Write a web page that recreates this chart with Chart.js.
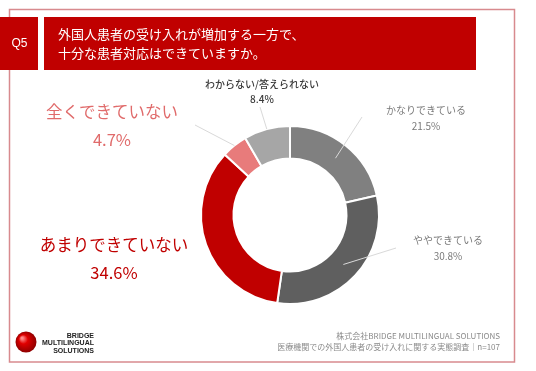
<!DOCTYPE html>
<html>
<head>
<meta charset="utf-8">
<script src="https://cdn.jsdelivr.net/npm/chart.js@4"></script>
<style>
  html, body { margin: 0; padding: 0; background: #fff; }
  canvas { display: block; }
</style>
</head>
<body>
<canvas id="chart" width="536" height="371"></canvas>
<script>
// survey answers, clockwise from 12 o'clock
var categories = ['かなりできている', 'ややできている', 'あまりできていない', '全くできていない', 'わからない/答えられない'];
var percentages = [21.5, 30.8, 34.6, 4.7, 8.4];
var sliceColors = ['#808080', '#5f5f5f', '#c00000', '#e87b7b', '#a6a6a6'];

var titleLines = ['外国人患者の受け入れが増加する一方で、', '十分な患者対応はできていますか。'];
var questionNo = 'Q5';
var sourceLines = ['株式会社BRIDGE MULTILINGUAL SOLUTIONS', '医療機関での外国人患者の受け入れに関する実態調査｜n=107'];
var logoLines = ['BRIDGE', 'MULTILINGUAL', 'SOLUTIONS'];

var JP = '"Noto Sans CJK JP", "Noto Sans", sans-serif';

// where each label sits, and where its leader line ends
var labelStyle = [
    { x: 426, y: 110, gap: 16, size: 10, color: '#7a7a7a', weight: 400, lineTo: [362, 117], r: 0.5 },
    { x: 448, y: 240, gap: 16, size: 10, color: '#7a7a7a', weight: 400, lineTo: [396, 248], r: 0.5 },
    { x: 114, y: 245, gap: 28, size: 16.5, color: '#c00000', weight: 400, lineTo: null, r: 0.5 },
    { x: 112, y: 112, gap: 28, size: 16.5, color: '#e06b6b', weight: 400, lineTo: [195, 125], r: 1 },
    { x: 262, y: 84, gap: 15, size: 10, color: '#3a3a3a', weight: 500, lineTo: [260, 107], r: 1 }
];

var frame = {
    id: 'frame',
    beforeDraw: function (chart) {
        var ctx = chart.ctx;
        ctx.save();
        ctx.fillStyle = '#fff';
        ctx.fillRect(0, 0, chart.width, chart.height);

        // outer border
        ctx.strokeStyle = '#d88a8e';
        ctx.lineWidth = 1.5;
        ctx.strokeRect(9.5, 9.5, 505, 352.5);

        // question box and title bar
        ctx.fillStyle = '#c00000';
        ctx.fillRect(0, 17, 38, 53);
        ctx.fillRect(44, 17, 432, 53);
        ctx.fillStyle = '#fff';
        ctx.textBaseline = 'middle';
        ctx.textAlign = 'center';
        ctx.font = '400 12px "Liberation Sans", Arial, sans-serif';
        ctx.fillText(questionNo, 19.5, 43.5);
        ctx.textAlign = 'left';
        ctx.font = '400 13px ' + JP;
        ctx.fillText(titleLines[0], 58, 34);
        ctx.fillText(titleLines[1], 58, 53);

        // source note
        ctx.textAlign = 'right';
        ctx.fillStyle = '#8a8a8a';
        ctx.font = '400 8px ' + JP;
        ctx.fillText(sourceLines[0], 500, 336);
        ctx.fillText(sourceLines[1], 500, 347);

        // logo
        var g = ctx.createRadialGradient(22, 338, 1, 26, 342, 11);
        g.addColorStop(0, '#ff8a8a');
        g.addColorStop(0.35, '#e00000');
        g.addColorStop(1, '#8a0000');
        ctx.fillStyle = g;
        ctx.beginPath();
        ctx.arc(26, 342, 10.5, 0, Math.PI * 2);
        ctx.fill();
        ctx.fillStyle = '#222';
        ctx.font = 'bold 7px "Liberation Sans", Arial, sans-serif';
        ctx.fillText(logoLines[0], 94, 336);
        ctx.fillText(logoLines[1], 94, 343.5);
        ctx.fillText(logoLines[2], 94, 351);
        ctx.restore();
    },
    afterDraw: function (chart) {
        var ctx = chart.ctx;
        var arcs = chart.getDatasetMeta(0).data;
        ctx.save();
        arcs.forEach(function (arc, i) {
            var s = labelStyle[i];
            if (s.lineTo) {
                var p = arc.getProps(['x', 'y', 'startAngle', 'endAngle', 'innerRadius', 'outerRadius']);
                var mid = (p.startAngle + p.endAngle) / 2;
                var rad = p.innerRadius + (p.outerRadius - p.innerRadius) * s.r;
                ctx.strokeStyle = '#d9d9d9';
                ctx.lineWidth = 1;
                ctx.beginPath();
                ctx.moveTo(p.x + Math.cos(mid) * rad, p.y + Math.sin(mid) * rad);
                ctx.lineTo(s.lineTo[0], s.lineTo[1]);
                ctx.stroke();
            }
            ctx.fillStyle = s.color;
            ctx.textAlign = 'center';
            ctx.textBaseline = 'middle';
            ctx.font = s.weight + ' ' + s.size + 'px ' + JP;
            ctx.fillText(categories[i], s.x, s.y);
            ctx.fillText(percentages[i].toFixed(1) + '%', s.x, s.y + s.gap);
        });
        ctx.restore();
    }
};

var chart = new Chart(document.getElementById('chart'), {
    type: 'doughnut',
    data: {
        labels: categories,
        datasets: [{
            data: percentages,
            backgroundColor: sliceColors,
            borderColor: '#ffffff',
            borderWidth: 2
        }]
    },
    options: {
        responsive: false,
        devicePixelRatio: 1,
        animation: false,
        cutout: '63.5%',
        layout: { padding: { left: 200, right: 156, top: 125, bottom: 66 } },
        plugins: {
            legend: { display: false },
            tooltip: { enabled: false }
        }
    },
    plugins: [frame]
});
</script>
</body>
</html>
